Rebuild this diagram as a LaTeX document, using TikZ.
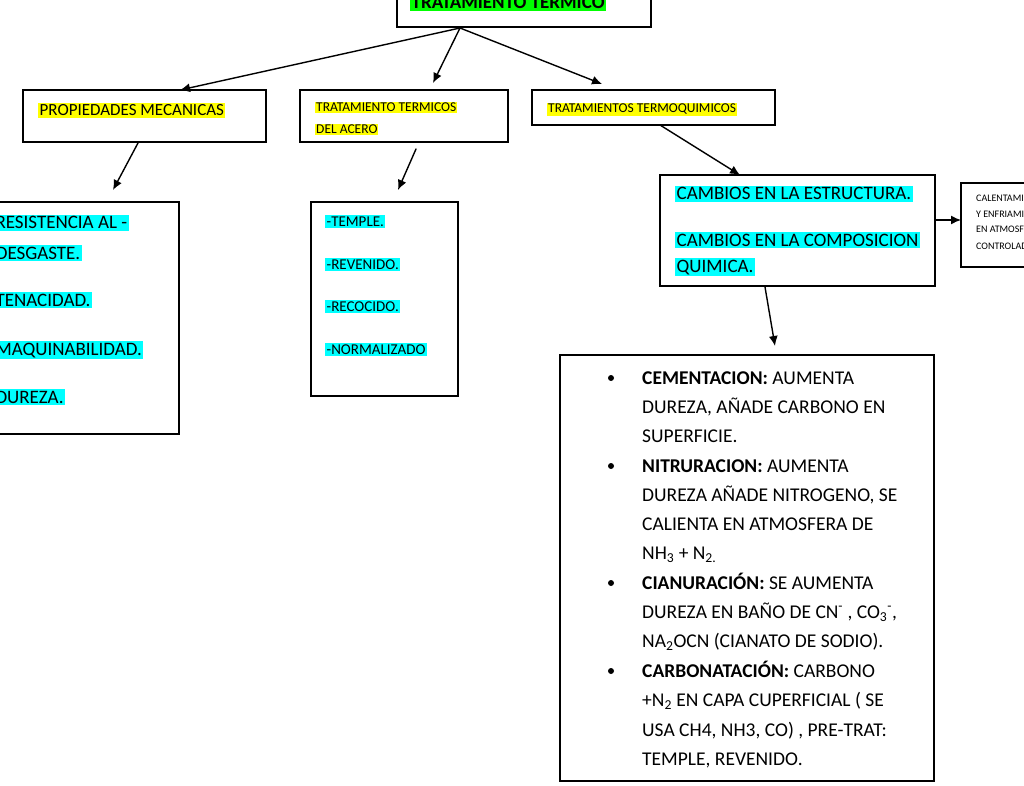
\documentclass[tikz,border=0pt]{standalone}
\usepackage{fontspec}
\setmainfont{Carlito}
\usetikzlibrary{arrows.meta}
\definecolor{hlcyan}{RGB}{0,255,255}
\definecolor{hlyellow}{RGB}{255,255,0}
\definecolor{hlgreen}{RGB}{0,255,0}
\begin{document}
\begin{tikzpicture}
% Style
[
    x=1pt, y=-1pt, line cap=round,
    box/.style={draw=black, line width=1.6pt},
    link/.style={-{Latex[length=10pt,width=9pt]}, line width=1.4pt},
    mark yellow/.style={anchor=base west, fill=hlyellow, inner sep=1.5pt, font=\fontsize{17}{20}\selectfont},
    mark small/.style={anchor=base west, fill=hlyellow, inner sep=1pt, font=\fontsize{13.5}{15}\selectfont},
    mark cyan/.style={anchor=base west, fill=hlcyan, inner sep=1.5pt, font=\fontsize{19}{22}\selectfont},
    plain/.style={anchor=base west, inner sep=0pt, font=\fontsize{19.5}{29.5}\selectfont}
]
\useasboundingbox (0,0) rectangle (1024,786);
\clip (0,0) rectangle (1024,786);

%================================== Boxes ==================================
\draw[box] (397,-30) rectangle (651,27);
\node[mark yellow, fill=hlgreen, font=\bfseries\fontsize{19}{22}\selectfont] (tt) at (410,9) {TRATAMIENTO TERMICO};

\draw[box] (23,90) rectangle (266,142);
\node[mark yellow] (pm) at (38,116) {PROPIEDADES MECANICAS};

\draw[box] (300,90) rectangle (508,142);
\node[mark small] (tta) at (315,112) {TRATAMIENTO TERMICOS};
\node[mark small] (ttb) at (315,134) {DEL ACERO};

\draw[box] (532,90) rectangle (775,125);
\node[mark small] (ttq) at (547,113) {TRATAMIENTOS TERMOQUIMICOS};

% Properties
\draw[box] (-30,202) rectangle (179,434);
\foreach \name/\y/\txt in {pa/229/-RESISTENCIA AL -, pc/306/-TENACIDAD., pd/355/-MAQUINABILIDAD., pe/403/-DUREZA.} {
    \node[mark cyan] (\name) at (-12,\y) {\txt};
}
\node[mark cyan, anchor=base east] (pb) at (82,259) {DESGASTE.};

% Steel treatments
\draw[box] (311,202) rectangle (458,396);
\foreach \name/\y/\txt in {sa/226/-TEMPLE., sb/269/-REVENIDO., sc/311/-RECOCIDO., sd/354/-NORMALIZADO} {
    \node[mark cyan, font=\fontsize{15}{17}\selectfont] (\name) at (325,\y) {\txt};
}

% Thermochemical
\draw[box] (660,175) rectangle (935,286);
\node[mark cyan] (ca) at (675,200) {CAMBIOS EN LA ESTRUCTURA.};
\node[mark cyan] (cb) at (675,246) {CAMBIOS EN LA COMPOSICION};
\node[mark cyan] (cc) at (675,272) {QUIMICA.};

\draw[box] (961,183) rectangle (1100,267);
\foreach \y/\txt in {202/CALENTAMIENTO, 218/Y ENFRIAMIENTO, 233/EN ATMOSFERA, 249/CONTROLADA} {
    \node[anchor=base west, inner sep=0pt, font=\fontsize{10}{11}\selectfont] at (976,\y) {\txt};
}

% Processes
\draw[box] (560,355) rectangle (934,781);
\foreach \y in {378, 466, 583, 671} {
    \fill (611,\y) circle (3pt);
}
\node[plain] at (642,384) {\textbf{CEMENTACION:} AUMENTA};
\node[plain] at (642,413) {DUREZA, AÑADE CARBONO EN};
\node[plain] at (642,442) {SUPERFICIE.};
\node[plain] at (642,472) {\textbf{NITRURACION:} AUMENTA};
\node[plain] at (642,501) {DUREZA AÑADE NITROGENO, SE};
\node[plain] at (642,530) {CALIENTA EN ATMOSFERA DE};
\node[plain] at (642,559) {NH\textsubscript{3} + N\textsubscript{2.}};
\node[plain] at (642,589) {\textbf{CIANURACIÓN:} SE AUMENTA};
\node[plain] at (642,618) {DUREZA EN BAÑO DE CN\textsuperscript{-} , CO\textsubscript{3}\textsuperscript{-},};
\node[plain] at (642,647) {NA\textsubscript{2}OCN (CIANATO DE SODIO).};
\node[plain] at (642,677) {\textbf{CARBONATACIÓN:} CARBONO};
\node[plain] at (642,706) {+N\textsubscript{2} EN CAPA CUPERFICIAL ( SE};
\node[plain] at (642,736) {USA CH4, NH3, CO) , PRE-TRAT:};
\node[plain] at (642,765) {TEMPLE, REVENIDO.};

%================================== Arrows ==================================
\coordinate (top) at (460,28);
\draw[link] (top) -- (180,90);
\draw[link] (top) -- (433,83);
\draw[link] (top) -- (602,84);
\draw[link] (138,143) -- (113,190);
\draw[link] (416,149) -- (398,190);
\draw[link] (660,125) -- (740,175);
\draw[link] (935,220) -- (961,220);
\draw[link] (765,287) -- (775,346);
\end{tikzpicture}
\end{document}
